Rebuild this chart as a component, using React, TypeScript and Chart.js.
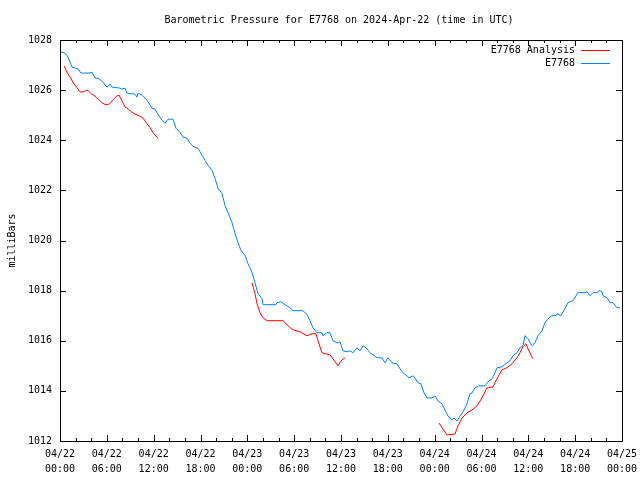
import React, { useEffect, useRef } from "react";
import { Chart, registerables } from "chart.js";

Chart.register(...registerables);

// E7768 observed pressure (hours since 2024-04-22 00:00 UTC, milliBars)
const stationHours = [0, 0.64, 1.02, 1.54, 2.31, 2.69, 3.84, 4.1, 4.48, 4.87, 5.38, 6.02, 6.41, 6.66, 7.69, 7.94, 8.33, 8.58, 9.61, 9.86, 9.99, 10.5, 11.14, 11.79, 12.17, 12.55, 13.07, 13.45, 13.84, 14.48, 14.86, 15.37, 15.76, 16.27, 16.65, 17.04, 17.68, 18.19, 18.58, 18.96, 19.47, 19.86, 20.24, 20.75, 21.14, 21.52, 22.03, 22.42, 22.8, 23.19, 23.7, 24.08, 24.6, 24.98, 25.36, 25.88, 26.01, 27.67, 27.8, 28.31, 28.82, 29.46, 29.85, 31.13, 31.64, 32.03, 32.41, 32.92, 33.56, 33.69, 34.2, 34.59, 34.97, 35.49, 35.87, 36.25, 36.77, 37.15, 37.54, 38.05, 38.43, 38.82, 39.33, 39.71, 40.1, 40.61, 41.25, 41.63, 42.02, 42.53, 43.17, 43.56, 43.94, 44.45, 44.71, 45.22, 45.48, 45.86, 46.25, 46.63, 47.02, 47.66, 48.04, 48.42, 48.94, 49.32, 49.71, 50.22, 50.47, 50.86, 51.24, 51.63, 52.14, 52.52, 52.78, 53.16, 53.68, 54.45, 54.83, 55.34, 55.73, 55.98, 56.62, 57.26, 57.65, 58.03, 58.54, 58.93, 59.31, 59.57, 59.95, 60.47, 60.85, 61.24, 61.75, 62.13, 62.52, 63.03, 63.54, 63.67, 64.18, 64.69, 65.08, 65.72, 65.97, 66.36, 67.26, 67.51, 67.9, 68.28, 68.79, 69.05, 69.43, 69.56, 70.07, 70.46, 70.84, 71.35, 71.74];
const stationValues = [1027.52, 1027.48, 1027.32, 1026.92, 1026.84, 1026.68, 1026.68, 1026.72, 1026.48, 1026.48, 1026.36, 1026.12, 1026.24, 1026.12, 1026.08, 1026.04, 1026.08, 1025.88, 1025.84, 1025.72, 1025.88, 1025.8, 1025.6, 1025.28, 1025.24, 1025.04, 1024.8, 1024.68, 1024.84, 1024.84, 1024.48, 1024.32, 1024.12, 1024.08, 1023.88, 1023.76, 1023.68, 1023.4, 1023.2, 1023.0, 1022.8, 1022.48, 1022.08, 1021.88, 1021.4, 1021.12, 1020.72, 1020.28, 1019.92, 1019.6, 1019.4, 1019.08, 1018.72, 1018.32, 1017.88, 1017.68, 1017.44, 1017.44, 1017.52, 1017.56, 1017.44, 1017.32, 1017.2, 1017.2, 1017.04, 1016.8, 1016.52, 1016.32, 1016.32, 1016.2, 1016.32, 1016.32, 1016.0, 1015.92, 1015.96, 1015.6, 1015.56, 1015.6, 1015.52, 1015.72, 1015.6, 1015.8, 1015.68, 1015.52, 1015.44, 1015.32, 1015.32, 1015.12, 1015.32, 1015.12, 1015.08, 1014.88, 1014.72, 1014.6, 1014.52, 1014.6, 1014.52, 1014.32, 1014.28, 1013.92, 1013.72, 1013.72, 1013.8, 1013.6, 1013.48, 1013.24, 1013.0, 1012.84, 1012.92, 1012.8, 1013.0, 1013.16, 1013.48, 1013.88, 1013.92, 1014.12, 1014.2, 1014.2, 1014.36, 1014.48, 1014.72, 1014.92, 1014.96, 1015.12, 1015.2, 1015.4, 1015.52, 1015.72, 1015.8, 1016.2, 1016.08, 1015.8, 1015.92, 1016.2, 1016.4, 1016.72, 1016.88, 1017.0, 1017.0, 1017.08, 1017.0, 1017.28, 1017.52, 1017.6, 1017.72, 1017.92, 1017.92, 1017.96, 1017.8, 1017.92, 1017.92, 1018.0, 1017.96, 1017.8, 1017.72, 1017.52, 1017.52, 1017.32, 1017.32];

// E7768 Analysis: three 12-hour runs separated by gaps (null)
const analysisHours = [0.55, 0.86, 1.28, 1.7, 2.14, 2.56, 2.98, 3.42, 3.63, 4.06, 4.48, 4.91, 5.34, 5.76, 6.19, 6.41, 6.83, 7.26, 7.56, 7.9, 8.33, 8.75, 9.19, 9.61, 10.25, 10.67, 11.11, 11.53, 11.95, 12.39, 12.59,
  18,
  24.6, 24.98, 25.24, 25.62, 26.01, 26.52, 28.57, 29.46, 29.85, 30.75, 31.64, 32.28, 32.8, 33.05, 33.56, 33.95, 34.59, 34.97, 35.61, 36.13, 36.51,
  42,
  48.55, 49.06, 49.58, 50.6, 50.99, 51.5, 52.14, 52.78, 53.42, 54.06, 54.7, 55.47, 55.98, 56.62, 57.26, 57.9, 58.54, 58.93, 59.31, 59.7, 59.95, 60.59];
const analysisValues = [1026.96, 1026.73, 1026.53, 1026.29, 1026.11, 1025.93, 1025.93, 1026.0, 1025.97, 1025.84, 1025.76, 1025.63, 1025.51, 1025.43, 1025.43, 1025.47, 1025.63, 1025.76, 1025.8, 1025.6, 1025.33, 1025.24, 1025.13, 1025.04, 1024.96, 1024.87, 1024.67, 1024.51, 1024.29, 1024.13, 1024.07,
  null,
  1018.32, 1017.88, 1017.48, 1017.12, 1016.92, 1016.8, 1016.8, 1016.52, 1016.44, 1016.36, 1016.2, 1016.28, 1016.28, 1016.0, 1015.52, 1015.48, 1015.44, 1015.28, 1015.0, 1015.24, 1015.32,
  null,
  1012.72, 1012.48, 1012.24, 1012.28, 1012.6, 1012.92, 1013.12, 1013.24, 1013.4, 1013.72, 1014.12, 1014.16, 1014.48, 1014.84, 1014.92, 1015.08, 1015.32, 1015.52, 1015.76, 1015.88, 1015.68, 1015.28];

const xDays = ["04/22", "04/23", "04/24", "04/25"];
const yMin = 1012;
const yMax = 1028;
const titleText = "Barometric Pressure for E7768 on 2024-Apr-22 (time in UTC)";
const yTitle = "milliBars";
const seriesNames = ["E7768 Analysis", "E7768"];
const seriesColors = ["rgb(255,0,0)", "rgb(0,128,255)"];

const FONT = "DejaVu Sans Mono";

const framePlugin = {
  id: "gnuFrame",
  afterDraw(chart: any) {
    const { ctx, chartArea } = chart;
    const { left, right, top, bottom } = chartArea;
    ctx.save();
    // title
    ctx.font = `10px "${FONT}"`;
    ctx.fillStyle = "#000";
    ctx.textAlign = "center";
    ctx.textBaseline = "middle";
    ctx.fillText(titleText, 339, 20);
    // border
    ctx.strokeStyle = "#000";
    ctx.lineWidth = 1;
    ctx.beginPath();
    ctx.rect(Math.round(left) + 0.5, Math.round(top) + 0.5, Math.round(right - left), Math.round(bottom - top));
    ctx.stroke();
    const xs = chart.scales.x;
    const ys = chart.scales.y;
    ctx.beginPath();
    xs.ticks.forEach((t: any) => {
      const px = Math.round(xs.getPixelForValue(t.value)) + 0.5;
      const len = t.value % 6 === 0 ? 6 : 3;
      ctx.moveTo(px, bottom);
      ctx.lineTo(px, bottom - len);
      ctx.moveTo(px, top);
      ctx.lineTo(px, top + len);
    });
    ys.ticks.forEach((t: any) => {
      const py = Math.round(ys.getPixelForValue(t.value)) + 0.5;
      ctx.moveTo(left, py);
      ctx.lineTo(left + 6, py);
      ctx.moveTo(right, py);
      ctx.lineTo(right - 6, py);
    });
    ctx.stroke();
    // legend (top right, text right-aligned, sample line to the right)
    ctx.textAlign = "right";
    const legendOrder = [0, 1];
    legendOrder.forEach((di, i) => {
      const ds = chart.data.datasets[di];
      const y = Math.round(top + 10 + i * 13) + 0.5;
      ctx.fillStyle = "#000";
      ctx.fillText(ds.label, right - 47, y);
      ctx.strokeStyle = ds.borderColor;
      ctx.beginPath();
      ctx.moveTo(right - 41, y);
      ctx.lineTo(right - 12, y);
      ctx.stroke();
    });
    ctx.restore();
  },
};

export default function App() {
  const ref = useRef<HTMLCanvasElement | null>(null);
  useEffect(() => {
    if (!ref.current) return;
    const analysisData = analysisHours.map((h, i) => ({ x: h, y: analysisValues[i] }));
    const stationData = stationHours.map((h, i) => ({ x: h, y: stationValues[i] }));
    const chart = new Chart(ref.current, {
      type: "line",
      data: {
        datasets: [
          {
            label: seriesNames[0],
            data: analysisData as any,
            borderColor: seriesColors[0],
            borderWidth: 1,
            pointRadius: 0,
            tension: 0,
            spanGaps: false,
            order: 1,
          },
          {
            label: seriesNames[1],
            data: stationData as any,
            borderColor: seriesColors[1],
            borderWidth: 1,
            pointRadius: 0,
            tension: 0,
            order: 0,
          },
        ],
      },
      options: {
        animation: false,
        responsive: false,
        devicePixelRatio: 1,
        layout: { padding: { left: 0, right: 18, top: 40, bottom: 0 } },
        plugins: {
          legend: { display: false },
          tooltip: { enabled: false },
          title: { display: false },
        },
        scales: {
          x: {
            type: "linear",
            min: 0,
            max: 72,
            grid: { display: false, drawTicks: false },
            border: { display: false },
            afterFit: (s: any) => {
              s.height = 39;
              s.paddingLeft = 0;
              s.paddingRight = 0;
            },
            afterBuildTicks: (s: any) => {
              const t = [];
              for (let v = 0; v <= 72; v += 2) t.push({ value: v });
              s.ticks = t;
            },
            ticks: {
              autoSkip: false,
              maxRotation: 0,
              minRotation: 0,
              padding: 6,
              color: "#000",
              font: { family: FONT, size: 10, lineHeight: 1.5 },
              callback: (v: any) => {
                const n = Number(v);
                if (n % 6 !== 0) return "";
                const day = xDays[Math.floor(n / 24)];
                const hr = n % 24;
                return [day, (hr < 10 ? "0" : "") + hr + ":00"];
              },
            },
          },
          y: {
            min: yMin,
            max: yMax,
            grid: { display: false, drawTicks: false },
            border: { display: false },
            afterFit: (s: any) => {
              s.width = 60;
              s.paddingTop = 0;
              s.paddingBottom = 0;
            },
            ticks: {
              stepSize: 2,
              padding: 8,
              color: "#000",
              font: { family: FONT, size: 10 },
              callback: (v: any) => String(v),
            },
            title: {
              display: true,
              text: yTitle,
              color: "#000",
              font: { family: FONT, size: 10 },
              padding: { top: 6, bottom: 0 },
            },
          },
        },
      },
      plugins: [framePlugin],
    });
    return () => chart.destroy();
  }, []);
  return (
    <div style={{ position: "absolute", left: 0, top: 0, width: 640, height: 480, background: "#fff" }}>
      <canvas ref={ref} width={640} height={480} />
    </div>
  );
}
